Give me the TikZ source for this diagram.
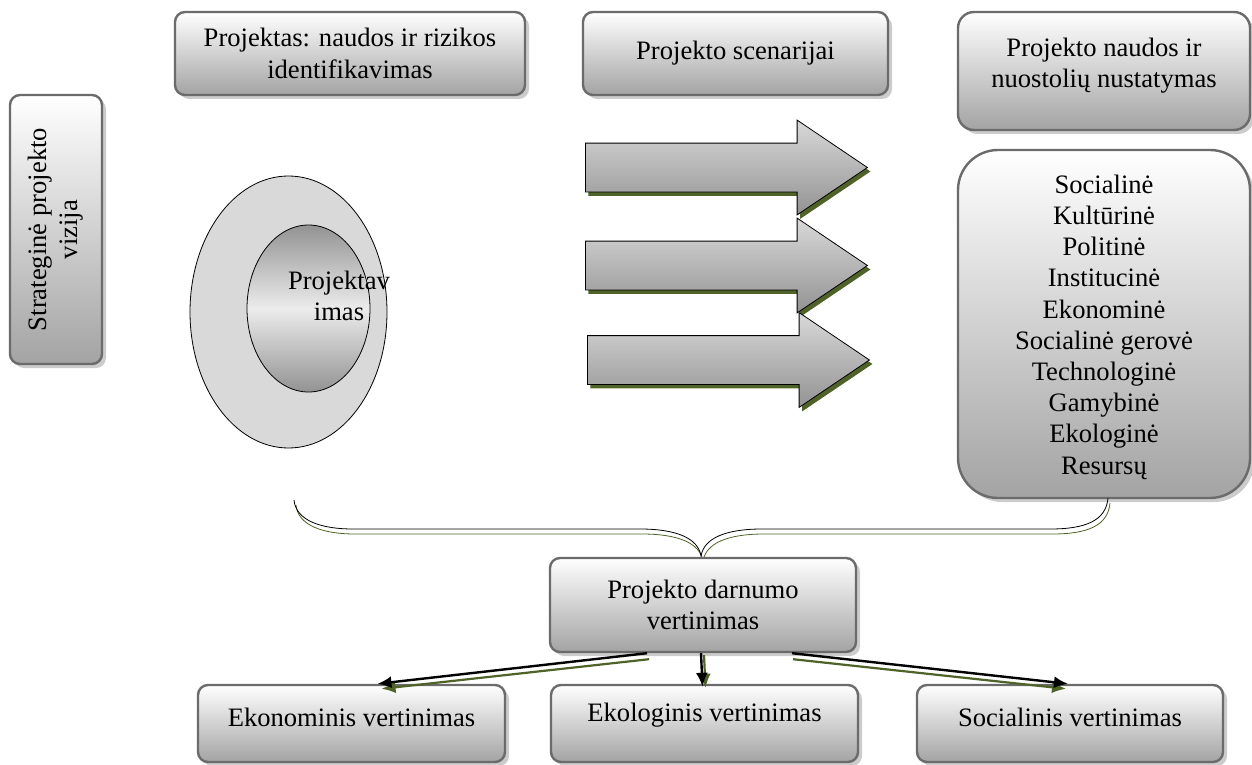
\documentclass[tikz,border=0pt]{standalone}
\usepackage{fontspec}
\setmainfont{Liberation Serif}
\usetikzlibrary{shapes.geometric,shapes.arrows,shadows,arrows.meta}
\definecolor{rim}{HTML}{6B6B6B}
\definecolor{mossy}{HTML}{4F6228}
\begin{document}
\begin{tikzpicture}[x=0.5pt,y=-0.5pt,
  every node/.style={font=\fontsize{13.3}{15.6}\selectfont, inner sep=0pt, align=center},
  grey box/.style={shape=rectangle, rounded corners=5pt, draw=rim, line width=1.2pt, top color=white, bottom color=gray!72, drop shadow={fill=gray!40, shadow xshift=2pt, shadow yshift=-2pt, opacity=1}},
  block arrow/.style={shape=single arrow, draw=black, thin, top color=gray!30, bottom color=gray!85, minimum height=141pt, minimum width=47pt, inner xsep=0pt, inner ysep=12pt, single arrow head extend=11.5pt, single arrow tip angle=68, anchor=tail, drop shadow={fill=mossy, shadow xshift=1.5pt, shadow yshift=-2pt, opacity=1}},
  link/.style={-{Latex[length=7pt,width=6pt]}, line width=1.2pt},
  link shadow/.style={-{Latex[length=7pt,width=6pt]}, line width=1.1pt, draw=mossy, fill=mossy}]
\useasboundingbox (0,0) rectangle (1252,765);
\node[grey box, minimum width=46pt, minimum height=134.5pt] (vision) at (56,229.5) {\rotatebox{90}{\begin{tabular}{@{}c@{}}Strateginė projekto\\vizija\end{tabular}}};
\node[grey box, minimum width=175pt, minimum height=41.5pt] (risk) at (350,53.5) {Projektas: naudos ir rizikos\\identifikavimas};
\node[grey box, minimum width=152.5pt, minimum height=41.5pt] (scen) at (735.5,53.5) {Projekto scenarijai};
\node[grey box, rounded corners=8pt, minimum width=146pt, minimum height=59pt] (loss) at (1104,71) {};
\node (losstext) at (1104,66) {Projekto naudos ir\\nuostolių nustatymas};
\node[grey box, rounded corners=20pt, minimum width=146pt, minimum height=174pt] (list) at (1104,324) {};
\node (listtext) at (1104,327) {Socialinė\\Kultūrinė\\Politinė\\Institucinė\\Ekonominė\\Socialinė gerovė\\Technologinė\\Gamybinė\\Ekologinė\\Resursų};
\node[ellipse, draw, fill=gray!30, minimum width=98.5pt, minimum height=136pt] (ring) at (288.5,312) {};
\node[ellipse, draw, top color=gray!85, bottom color=gray!85, middle color=gray!15, minimum width=61.5pt, minimum height=83.5pt] (core) at (308.5,308.5) {};
\node (coretext) at (339,296) {Projektav\\imas};
\node[block arrow] (ar1) at (585,167.5) {};
\node[block arrow] (ar2) at (585,265.5) {};
\node[block arrow] (ar3) at (587,360) {};
\foreach \c/\dx/\dy in {mossy/1/-2.5, black/0/0}
  \draw[\c, thin, xshift=\dx pt, yshift=\dy pt] (294,500) .. controls (296,521) and (322,529) .. (353,529) -- (640,529) .. controls (676,529) and (698,538) .. (701,556) .. controls (704,538) and (726,529) .. (762,529) -- (1050,529) .. controls (1085,529) and (1106,521) .. (1108,498);
\node[grey box, minimum width=153pt, minimum height=47pt] (assess) at (703,605) {Projekto darnumo\\vertinimas};
\node[grey box, minimum width=153.5pt, minimum height=38.5pt] (econ) at (351.5,723.5) {};
\node (econtext) at (351.5,717) {Ekonominis vertinimas};
\node[grey box, minimum width=153.5pt, minimum height=38.5pt] (ecol) at (704.5,723.5) {};
\node (ecoltext) at (704.5,715) {Ekologinis vertinimas};
\node[grey box, minimum width=153pt, minimum height=38.5pt] (soc) at (1070,723.5) {};
\node (soctext) at (1070,717) {Socialinis vertinimas};
\draw[link shadow] ([xshift=-27pt,yshift=-3pt]assess.south) -- ([xshift=15pt,yshift=-2.5pt]econ.north);
\draw[link shadow] ([xshift=0.5pt,yshift=-1pt]assess.south) -- ([xshift=0.5pt,yshift=-2pt]ecol.north);
\draw[link shadow] ([xshift=45pt,yshift=-3pt]assess.south) -- ([xshift=-2pt,yshift=-2.5pt]soc.north);
\draw[link] ([xshift=-28pt]assess.south) -- ([xshift=13pt]econ.north);
\draw[link] ([xshift=-1pt]assess.south) -- ([xshift=-1pt,yshift=-1.5pt]ecol.north);
\draw[link] ([xshift=44.5pt]assess.south) -- ([xshift=-1pt]soc.north);
\end{tikzpicture}
\end{document}
